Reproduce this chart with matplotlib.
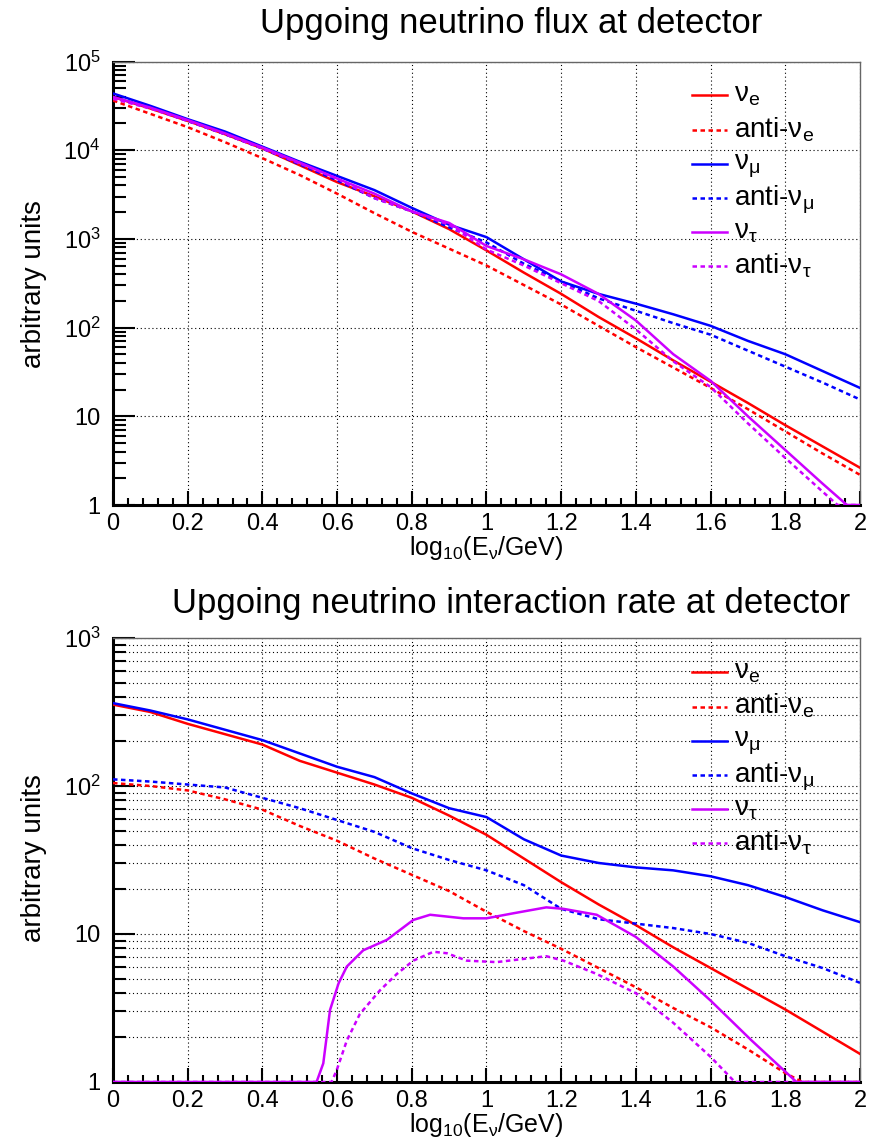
import numpy as np
import matplotlib
matplotlib.use('Agg')
import matplotlib.pyplot as plt
from matplotlib.lines import Line2D
from matplotlib.ticker import LogLocator, MultipleLocator, NullFormatter

plt.rcParams['font.family'] = ['Liberation Sans', 'DejaVu Sans']
plt.rcParams['mathtext.fontset'] = 'custom'
plt.rcParams['mathtext.rm'] = 'Liberation Sans'
plt.rcParams['mathtext.it'] = 'Liberation Sans:italic'
plt.rcParams['mathtext.bf'] = 'Liberation Sans:bold'
plt.rcParams['mathtext.sf'] = 'Liberation Sans'

# ---------------- data (log10 of the plotted value) ----------------
# Top panel: flux
x_flux = [0.0, 0.1, 0.2, 0.3, 0.4, 0.5, 0.6, 0.7, 0.8, 0.9, 1.0,
          1.1, 1.2, 1.3, 1.4, 1.5, 1.6, 1.7, 1.8, 1.9, 2.0]
flux_nue = [4.60, 4.47, 4.33, 4.18, 4.02, 3.83, 3.64, 3.48, 3.31, 3.11, 2.87,
            2.62, 2.38, 2.12, 1.88, 1.63, 1.39, 1.15, 0.90, 0.66, 0.42]
flux_anue = [4.56, 4.41, 4.26, 4.09, 3.91, 3.72, 3.51, 3.29, 3.08, 2.89, 2.70,
             2.48, 2.26, 2.02, 1.78, 1.55, 1.32, 1.08, 0.83, 0.58, 0.34]
flux_numu = [4.64, 4.50, 4.35, 4.21, 4.04, 3.87, 3.71, 3.55, 3.35, 3.16, 3.02,
             2.77, 2.52, 2.38, 2.27, 2.15, 2.02, 1.85, 1.70, 1.51, 1.32]
flux_anumu = [4.60, 4.48, 4.33, 4.18, 4.02, 3.84, 3.66, 3.46, 3.31, 3.13, 2.96,
              2.72, 2.52, 2.33, 2.19, 2.05, 1.92, 1.74, 1.56, 1.38, 1.19]
x_flux_nutau = [0.0, 0.1, 0.2, 0.3, 0.4, 0.5, 0.6, 0.7, 0.8, 0.9, 1.0,
                1.1, 1.2, 1.3, 1.4, 1.5, 1.6, 1.7, 1.8, 1.9, 1.965, 2.0]
flux_nutau = [4.60, 4.48, 4.34, 4.19, 4.03, 3.86, 3.68, 3.51, 3.31, 3.18, 2.92,
              2.77, 2.60, 2.38, 2.08, 1.70, 1.40, 1.00, 0.62, 0.24, 0.0, 0.0]
x_flux_anutau = [0.0, 0.1, 0.2, 0.3, 0.4, 0.5, 0.6, 0.7, 0.8, 0.9, 1.0,
                 1.1, 1.2, 1.3, 1.4, 1.5, 1.6, 1.7, 1.8, 1.9, 1.94, 2.0]
flux_anutau = [4.58, 4.47, 4.33, 4.18, 4.02, 3.85, 3.68, 3.46, 3.31, 3.16, 2.88,
               2.70, 2.50, 2.30, 1.98, 1.62, 1.33, 0.92, 0.53, 0.15, 0.0, 0.0]

# Bottom panel: interaction rate
x_rate = [0.0, 0.1, 0.2, 0.3, 0.4, 0.5, 0.6, 0.7, 0.8, 0.9, 1.0,
          1.1, 1.2, 1.3, 1.4, 1.5, 1.6, 1.7, 1.8, 1.9, 2.0]
rate_nue = [2.55, 2.50, 2.42, 2.35, 2.28, 2.17, 2.09, 2.01, 1.92, 1.80, 1.67,
            1.51, 1.35, 1.20, 1.06, 0.91, 0.77, 0.63, 0.49, 0.34, 0.19]
rate_numu = [2.56, 2.51, 2.45, 2.38, 2.31, 2.22, 2.13, 2.06, 1.95, 1.85, 1.79,
             1.64, 1.53, 1.48, 1.45, 1.43, 1.39, 1.33, 1.25, 1.16, 1.08]
rate_anumu = [2.045, 2.03, 2.01, 1.99, 1.92, 1.85, 1.77, 1.69, 1.58, 1.50, 1.43,
              1.33, 1.17, 1.10, 1.07, 1.04, 1.00, 0.94, 0.85, 0.77, 0.67]
x_rate_anue = [0.0, 0.1, 0.2, 0.3, 0.4, 0.5, 0.6, 0.7, 0.8, 0.9, 1.0,
               1.1, 1.2, 1.3, 1.4, 1.5, 1.6, 1.7, 1.8, 1.846, 2.0]
rate_anue = [2.02, 2.00, 1.97, 1.91, 1.84, 1.73, 1.63, 1.51, 1.40, 1.29, 1.15,
             1.02, 0.90, 0.77, 0.64, 0.50, 0.37, 0.22, 0.06, 0.0, 0.0]
x_rate_nutau = [0.0, 0.545, 0.563, 0.581, 0.604, 0.626, 0.67, 0.733, 0.804, 0.849,
                0.938, 1.0, 1.072, 1.16, 1.206, 1.295, 1.40, 1.50, 1.60, 1.71, 1.83, 2.0]
rate_nutau = [0.0, 0.0, 0.126, 0.486, 0.667, 0.78, 0.89, 0.96, 1.095, 1.13,
              1.106, 1.106, 1.14, 1.18, 1.17, 1.13, 0.98, 0.78, 0.55, 0.28, 0.0, 0.0]
x_rate_anutau = [0.0, 0.585, 0.599, 0.626, 0.661, 0.715, 0.76, 0.804, 0.858, 0.894,
                 0.947, 1.027, 1.16, 1.206, 1.295, 1.40, 1.50, 1.60, 1.665, 2.0]
rate_anutau = [0.0, 0.0, 0.08, 0.28, 0.46, 0.62, 0.73, 0.82, 0.88, 0.87,
               0.82, 0.81, 0.85, 0.82, 0.73, 0.60, 0.40, 0.17, 0.0, 0.0]

legend_labels = [r'$\mathregular{\nu_{e}}$', r'anti-$\mathregular{\nu_{e}}$',
                 r'$\mathregular{\nu_{\mu}}$', r'anti-$\mathregular{\nu_{\mu}}$',
                 r'$\mathregular{\nu_{\tau}}$', r'anti-$\mathregular{\nu_{\tau}}$']
xtick_vals = [0, 0.2, 0.4, 0.6, 0.8, 1.0, 1.2, 1.4, 1.6, 1.8, 2.0]
xtick_labels = ['0', '0.2', '0.4', '0.6', '0.8', '1', '1.2', '1.4', '1.6', '1.8', '2']

RED = '#ff0000'
BLUE = '#0000ff'
MAG = '#cc00ff'
colors = [RED, RED, BLUE, BLUE, MAG, MAG]
DOT = (0, (1.8, 1.4))
styles = ['-', DOT, '-', DOT, '-', DOT]
LW = 1.8

W, H = 882, 1147
fig = plt.figure(figsize=(W / 100, H / 100), dpi=100)


def fx(px):
    return px / W


def fy(py):
    return 1 - py / H


def setup_axes(ax, ymax, yticklabels, minor_grid):
    ax.set_xlim(0, 2)
    ax.set_yscale('log')
    ax.set_ylim(1, ymax)
    ax.set_xticks(xtick_vals)
    ax.set_xticklabels(xtick_labels)
    ax.xaxis.set_minor_locator(MultipleLocator(0.04))
    ax.yaxis.set_minor_locator(LogLocator(base=10, subs=np.arange(2, 10), numticks=20))
    ax.yaxis.set_minor_formatter(NullFormatter())
    decades = [10 ** k for k in range(len(yticklabels))]
    ax.set_yticks(decades)
    ax.set_yticklabels(yticklabels)
    ax.tick_params(axis='both', which='both', direction='in', top=False, right=False,
                   colors='black', labelsize=17)
    ax.tick_params(axis='y', which='major', length=16, width=1.5, pad=9)
    ax.tick_params(axis='y', which='minor', length=9, width=1.5)
    ax.tick_params(axis='x', which='major', length=10, width=1.5, pad=6)
    ax.tick_params(axis='x', which='minor', length=5, width=1.5)
    for s in ['left', 'bottom']:
        ax.spines[s].set_linewidth(2.2)
        ax.spines[s].set_color('black')
    for s in ['top', 'right']:
        ax.spines[s].set_linewidth(1.0)
        ax.spines[s].set_color('#666666')
    ax.set_axisbelow(True)
    ax.grid(True, which='major', axis='both', color='black', linestyle=(0, (1, 2.5)),
            linewidth=0.8)
    if minor_grid:
        ax.grid(True, which='minor', axis='y', color='black', linestyle=(0, (1, 2.5)),
                linewidth=0.8)
    ax.set_xlabel(r'$\mathregular{log_{10}(E_{\nu}/GeV)}$', fontsize=18, labelpad=-1)


def draw_legend(first_y):
    for i, (lab, c, st) in enumerate(zip(legend_labels, colors, styles)):
        y = first_y + i * 34.2
        fig.add_artist(Line2D([fx(692), fx(727)], [fy(y), fy(y)], color=c,
                              linestyle=st, linewidth=LW))
        off = 6 if i % 2 == 0 else 7.5
        fig.text(fx(734), fy(y + off), lab, fontsize=20, ha='left', va='baseline')


# ---------------- top panel ----------------
ax1 = fig.add_axes([fx(113), fy(505), fx(860) - fx(113), (505 - 61.5) / H])
top_series = [(x_flux, flux_nue), (x_flux, flux_anue), (x_flux, flux_numu),
              (x_flux, flux_anumu), (x_flux_nutau, flux_nutau),
              (x_flux_anutau, flux_anutau)]
for (xs, ys), c, st in zip(top_series, colors, styles):
    ax1.plot(xs, 10 ** np.array(ys), color=c, linestyle=st, linewidth=LW, zorder=3)
setup_axes(ax1, 1e5, ['1', '10', r'$\mathregular{10^{2}}$', r'$\mathregular{10^{3}}$',
                      r'$\mathregular{10^{4}}$', r'$\mathregular{10^{5}}$'], False)
fig.text(fx(511), fy(24), 'Upgoing neutrino flux at detector', fontsize=25,
         ha='center', va='center')
fig.text(fx(34), fy(284), 'arbitrary units', fontsize=20, rotation=90,
         ha='center', va='center')
draw_legend(95.3)

# ---------------- bottom panel ----------------
ax2 = fig.add_axes([fx(113), fy(1082), fx(860) - fx(113), (1082 - 638) / H])
bot_series = [(x_rate, rate_nue), (x_rate_anue, rate_anue), (x_rate, rate_numu),
              (x_rate, rate_anumu), (x_rate_nutau, rate_nutau),
              (x_rate_anutau, rate_anutau)]
for (xs, ys), c, st in zip(bot_series, colors, styles):
    ax2.plot(xs, 10 ** np.array(ys), color=c, linestyle=st, linewidth=LW, zorder=3)
setup_axes(ax2, 1e3, ['1', '10', r'$\mathregular{10^{2}}$', r'$\mathregular{10^{3}}$'], True)
fig.text(fx(511), fy(603), 'Upgoing neutrino interaction rate at detector', fontsize=25,
         ha='center', va='center')
fig.text(fx(34), fy(858), 'arbitrary units', fontsize=20, rotation=90,
         ha='center', va='center')
draw_legend(672.3)

fig.savefig('out.png', dpi=100)
